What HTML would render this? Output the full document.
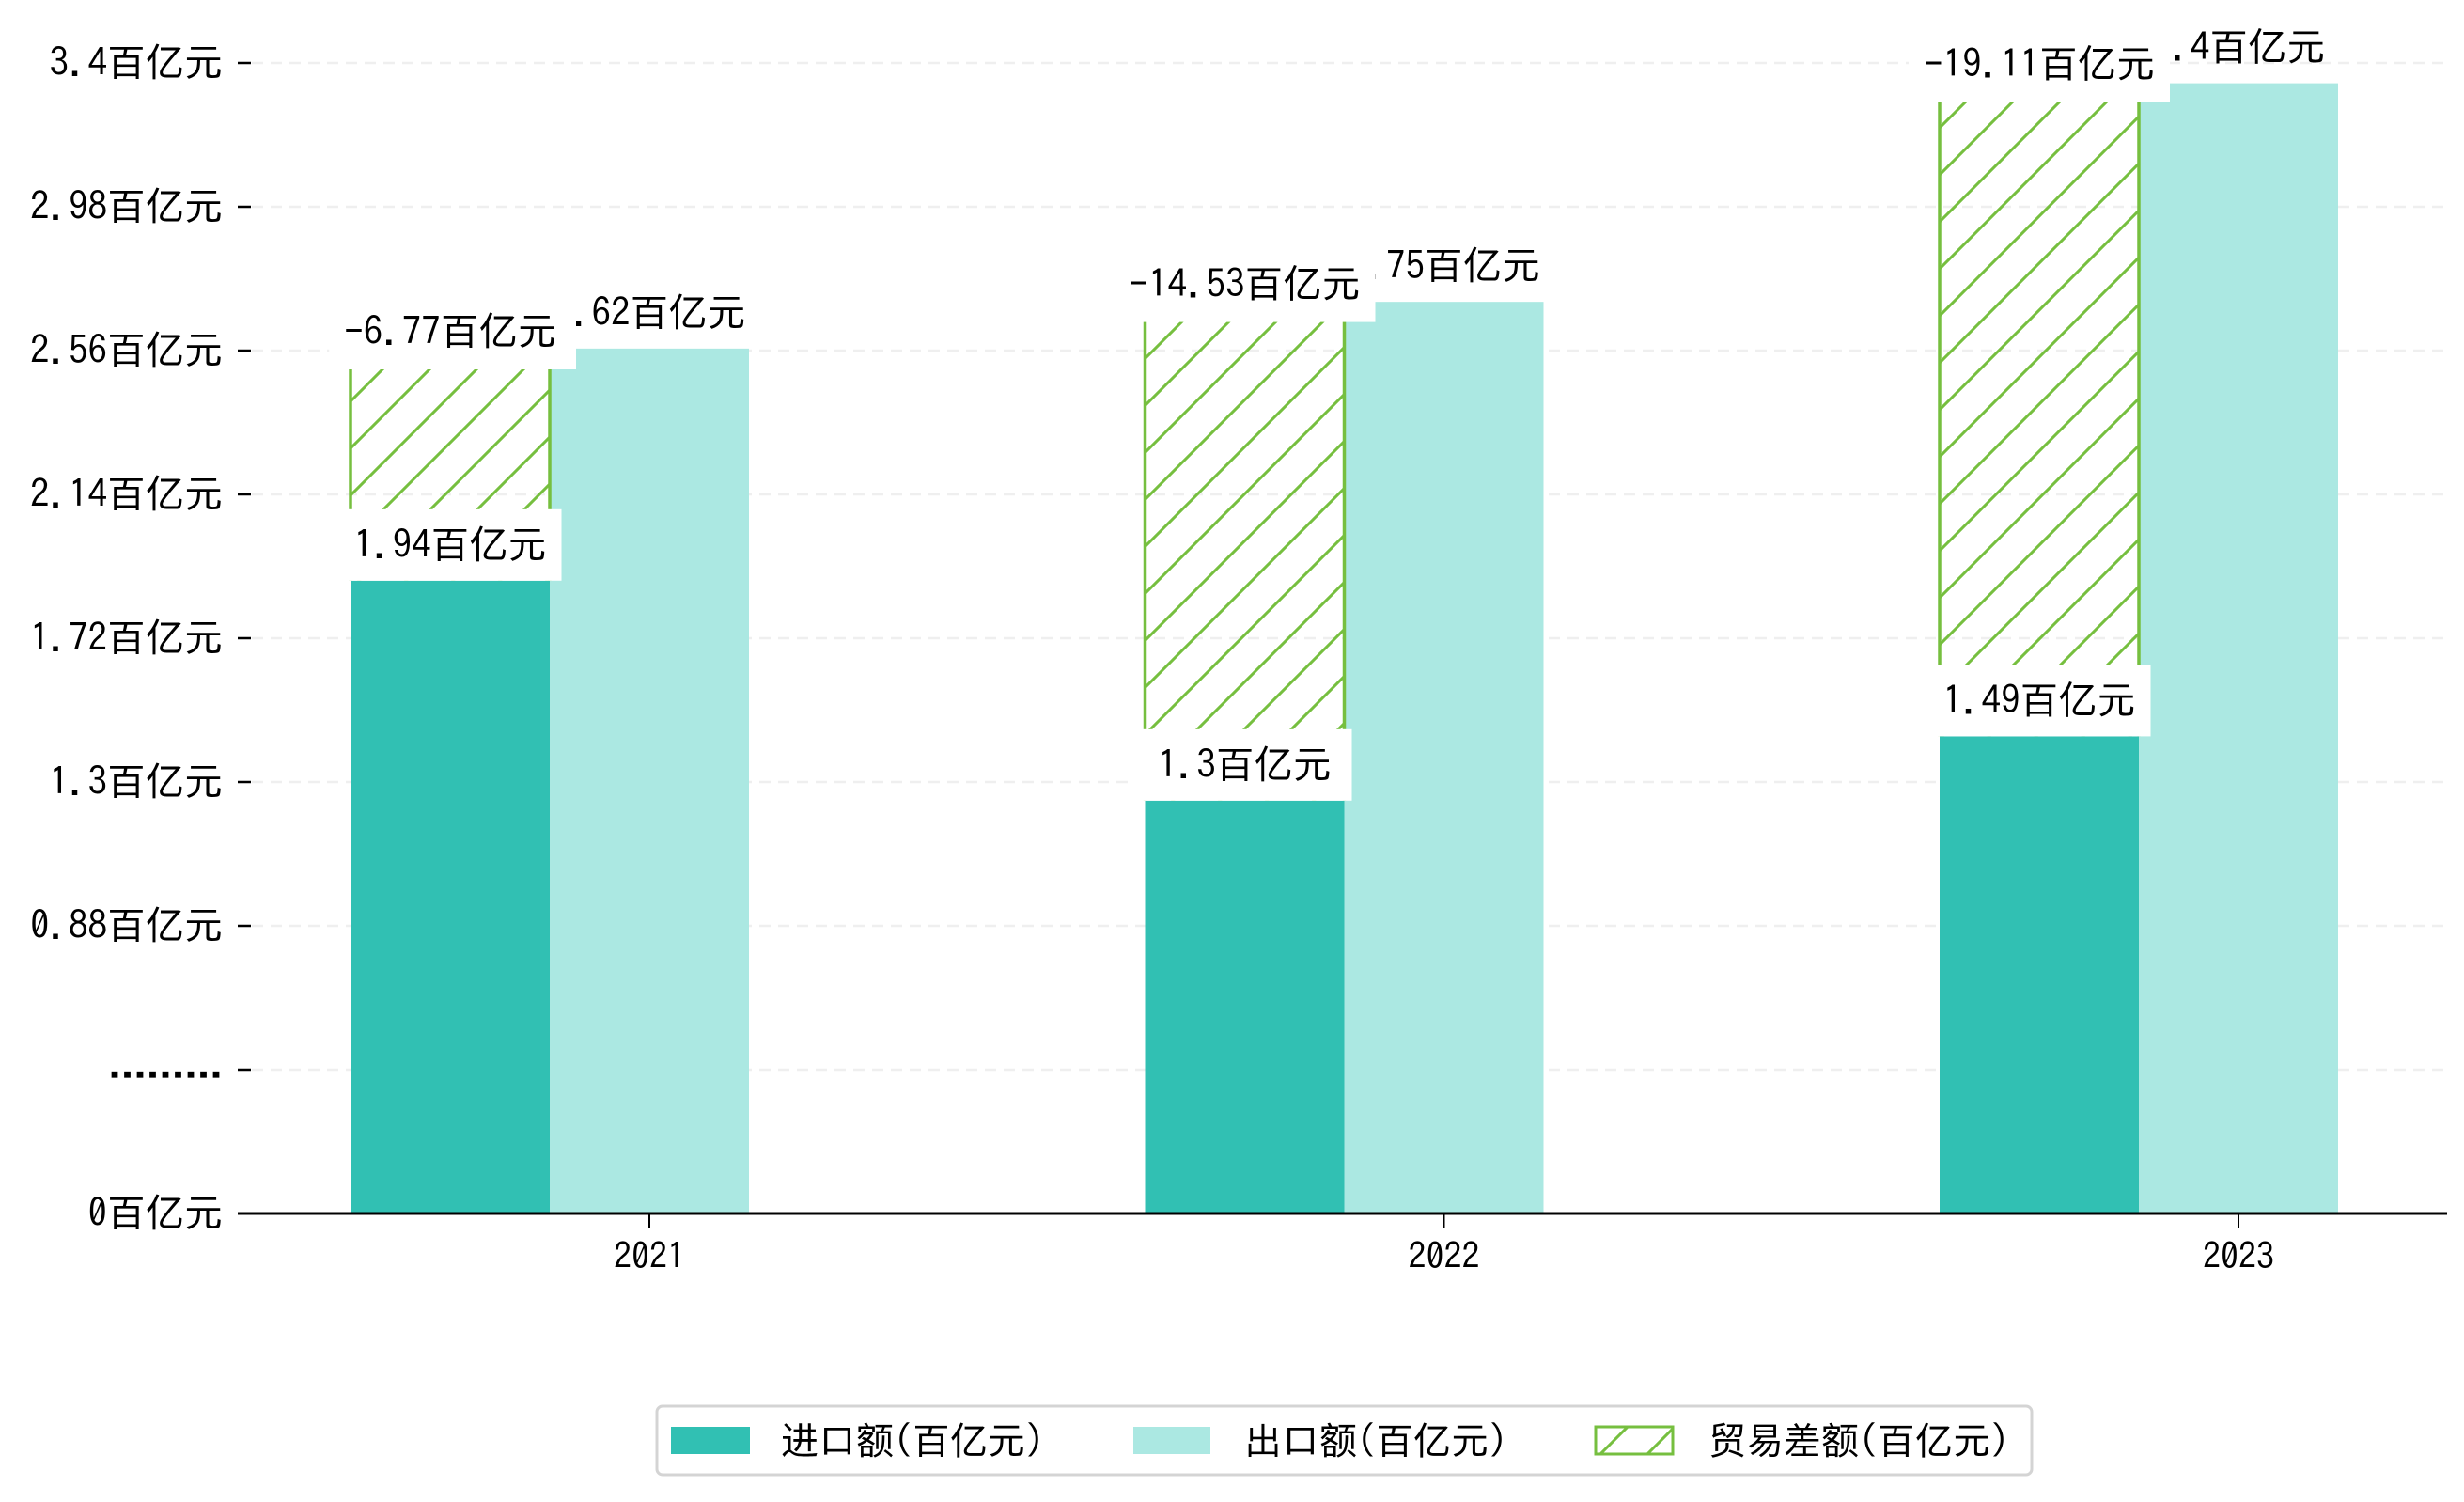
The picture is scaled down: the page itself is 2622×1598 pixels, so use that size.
<!DOCTYPE html>
<html><head><meta charset="utf-8"><style>
html,body{margin:0;padding:0;background:#fff;}
svg{display:block;font-family:"IPAGothic","WenQuanYi Zen Hei","Noto Sans CJK JP",sans-serif;}
</style></head><body>
<svg id="chart" width="2622" height="1598" viewBox="0 0 2622 1598">
<defs>
<pattern id="hatch" patternUnits="userSpaceOnUse" width="50" height="50">
<path d="M-5,5 L5,-5 M0,50 L50,0 M45,55 L55,45" stroke="#76bf3f" stroke-width="3"/>
</pattern>
</defs>
<g id="grid"></g><g id="bars"></g><g id="labels"></g><g id="axes"></g>
<g>
<rect x="699" y="1496" width="1463" height="73" rx="6" fill="#fff" stroke="#d4d4d4" stroke-width="3"/>
<rect x="714" y="1518" width="84" height="29" fill="#31c0b3"/>
<text x="831" y="1547" font-size="40">进口额(百亿元)</text>
<rect x="1206" y="1518" width="82" height="29" fill="#abe8e2"/>
<text x="1324" y="1547" font-size="40">出口额(百亿元)</text>
<rect x="1698" y="1518" width="82" height="29" fill="url(#hatch)" stroke="#76bf3f" stroke-width="3"/>
<text x="1818" y="1547" font-size="40">贸易差额(百亿元)</text>
</g>
</svg>
<script>
const categories = ["2021","2022","2023"];
const imports = [1.87, 1.22, 1.41];
const exports = [2.556, 2.694, 3.34];
const balanceTop = [2.50, 2.64, 3.29];
const importLabels = ["1.94百亿元","1.3百亿元","1.49百亿元"];
const exportLabels = ["2.62百亿元","2.75百亿元","3.4百亿元"];
const balanceLabels = ["-6.77百亿元","-14.53百亿元","-19.11百亿元"];
const tickLabels = ["0百亿元",".........","0.88百亿元","1.3百亿元","1.72百亿元","2.14百亿元","2.56百亿元","2.98百亿元","3.4百亿元"];

const NS="http://www.w3.org/2000/svg";
const y0=1291, yTop=67, yMax=3.4;
const y = v => y0 - (v/yMax)*(y0-yTop);
const xC = i => 691 + i*845.5;
const BW = 212;
const FS = 41;
function mk(tag, attrs, parent){const e=document.createElementNS(NS,tag);for(const k in attrs)e.setAttribute(k,attrs[k]);parent.appendChild(e);return e;}
const grid=document.getElementById('grid'), bars=document.getElementById('bars'), labels=document.getElementById('labels'), axes=document.getElementById('axes');

tickLabels.forEach((t,i)=>{
  const yy = y0 - i*(y0-yTop)/(tickLabels.length-1);
  const g=mk('line',{x1:268,x2:2600,y1:yy,y2:yy,stroke:'#efefef','stroke-width':2.5,'stroke-dasharray':'12,8'},grid);
  
  
  const tk=mk('line',{x1:253,x2:267,y1:yy,y2:yy,stroke:'#000','stroke-width':2.5},axes);
  
  
  const tx=mk('text',{x:237,y:yy+14,'text-anchor':'end','font-size':FS},axes);
  if(/^\.+$/.test(t)){tx.setAttribute('letter-spacing','-7');tx.setAttribute('font-weight','bold');tx.setAttribute('y',yy+8);}
  tx.textContent=t;
  
  
});

categories.forEach((c,i)=>{
  const xc=xC(i), xi=xc-BW*1.5, xe=xc-BW/2;
  const bi=mk('rect',{x:xi,y:y(imports[i]),width:BW,height:y0-y(imports[i]),fill:'#31c0b3'},bars);
  
  
  const be=mk('rect',{x:xe,y:y(exports[i]),width:BW,height:y0-y(exports[i]),fill:'#abe8e2'},bars);
  
  
  const bh=mk('rect',{x:xi,y:y(balanceTop[i]),width:BW,height:y(imports[i])-y(balanceTop[i]),fill:'url(#hatch)'},bars);
  
  
  const e1=mk('line',{x1:xi,x2:xi,y1:y(balanceTop[i]),y2:y(imports[i]),stroke:'#76bf3f','stroke-width':3.5},bars);
  
  
  const e2=mk('line',{x1:xi+BW,x2:xi+BW,y1:y(balanceTop[i]),y2:y(imports[i]),stroke:'#76bf3f','stroke-width':3.5},bars);
  
  
  // export label
  const ey=y(exports[i]);
  const et=mk('text',{x:xe+BW/2,y:ey-24,'text-anchor':'middle','font-size':FS},labels);
  et.textContent=exportLabels[i];
  
  
  // balance label
  const hy=y(balanceTop[i]);
  const hb=mk('rect',{x:0,y:hy-76,width:10,height:78,fill:'#fff'},labels);
  
  
  const ht=mk('text',{x:xi+BW/2,y:hy-24,'text-anchor':'middle','font-size':FS},labels);
  ht.textContent=balanceLabels[i];
  
  
  const bb=ht.getBBox();
  hb.setAttribute('x',Math.min(bb.x-16,xi-12));hb.setAttribute('width',Math.max(bb.x+bb.width+16,xi+BW+28)-Math.min(bb.x-16,xi-12));
  // import label
  const iy=y(imports[i]);
  const ib=mk('rect',{x:0,y:iy-76,width:10,height:76,fill:'#fff'},labels);
  
  
  const it=mk('text',{x:xi+BW/2,y:iy-24,'text-anchor':'middle','font-size':FS},labels);
  it.textContent=importLabels[i];
  
  
  const ibb=it.getBBox();
  const l=Math.min(ibb.x-16,xi-14), r=Math.max(ibb.x+ibb.width+16,xi+BW+8);
  ib.setAttribute('x',l);ib.setAttribute('width',r-l);
  // x tick
  const xt=mk('line',{x1:xc,x2:xc,y1:y0,y2:y0+15,stroke:'#000','stroke-width':2},axes);
  
  
  const xl=mk('text',{x:xc,y:1350,'text-anchor':'middle','font-size':38},axes);
  xl.textContent=c;
  
  
});
const ax=mk('line',{x1:253,x2:2604,y1:y0,y2:y0,stroke:'#000','stroke-width':3},axes);


</script>
</body></html>
